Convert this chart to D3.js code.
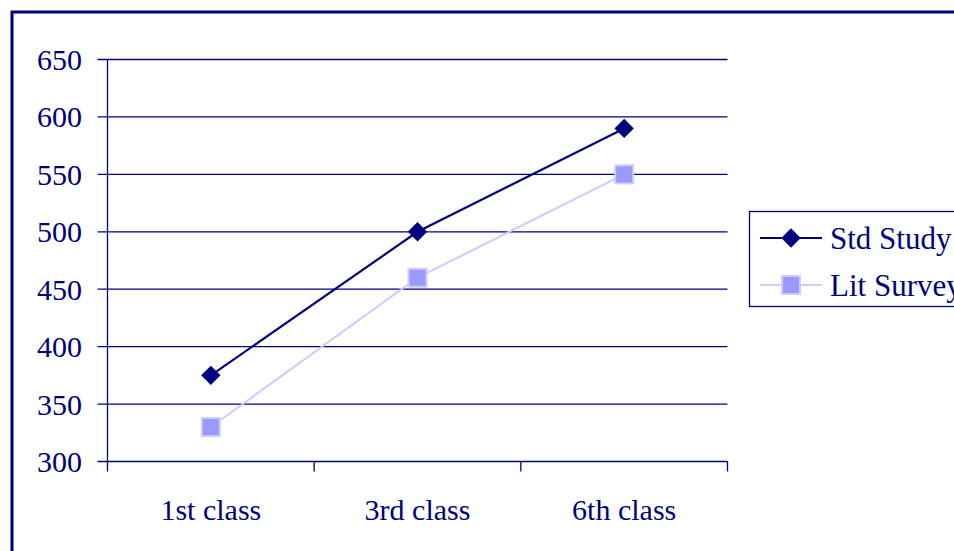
<!DOCTYPE html>
<html><head><meta charset="utf-8">
<script src="https://cdn.jsdelivr.net/npm/d3@7"></script>
<style>html,body{margin:0;padding:0;background:#fff;overflow:hidden}</style>
</head><body>
<svg id="c" width="954" height="551"></svg>
<script>
const categories = ["1st class", "3rd class", "6th class"];
const stdStudy = [375, 500, 590];
const litSurvey = [330, 460, 550];
const yTicks = [300, 350, 400, 450, 500, 550, 600, 650];
const seriesNames = ["Std Study", "Lit Survey"];

const navy = "#000080";
const svg = d3.select("#c");
const font = "'Liberation Serif', 'Times New Roman', serif";

// outer frame
svg.append("rect").attr("x", 12).attr("y", 12).attr("width", 1000).attr("height", 1000)
  .attr("fill", "none").attr("stroke", navy).attr("stroke-width", 3);

const L = 107.5, R = 727.5, T = 59.5, B = 461.5;
const x = d3.scaleBand().domain(categories).range([L, R]);
const y = d3.scaleLinear().domain([300, 650]).range([B, T]);

// gridlines
svg.append("g").selectAll("line").data(yTicks).join("line")
  .attr("x1", L - 10).attr("x2", R).attr("y1", d => y(d)).attr("y2", d => y(d))
  .attr("stroke", navy).attr("stroke-width", 1.3);

// y axis line
svg.append("line").attr("x1", L).attr("x2", L).attr("y1", T).attr("y2", B + 10)
  .attr("stroke", navy).attr("stroke-width", 1.3);

// x category ticks
const bounds = categories.map(c => x(c) + x.bandwidth()).slice(0, -1);
svg.append("g").selectAll("line").data(bounds.concat([R])).join("line")
  .attr("x1", d => d).attr("x2", d => d).attr("y1", B).attr("y2", B + 10)
  .attr("stroke", navy).attr("stroke-width", 1.3);

// y labels
svg.append("g").selectAll("text").data(yTicks).join("text")
  .attr("x", 82).attr("y", d => y(d)).attr("dy", "0.35em")
  .attr("text-anchor", "end").attr("font-family", font).attr("font-size", 30)
  .attr("fill", navy).text(d => d);

// x labels
svg.append("g").selectAll("text").data(categories).join("text")
  .attr("x", d => x(d) + x.bandwidth() / 2).attr("y", 520)
  .attr("text-anchor", "middle").attr("font-family", font).attr("font-size", 30)
  .attr("fill", navy).text(d => d);

const cx = c => x(c) + x.bandwidth() / 2;
const line = d3.line().x((d, i) => cx(categories[i])).y(d => y(d));

// Lit Survey
svg.append("path").datum(litSurvey).attr("d", line).attr("fill", "none")
  .attr("stroke", "#ccccff").attr("stroke-width", 2);
svg.append("g").selectAll("rect").data(litSurvey).join("rect")
  .attr("x", (d, i) => cx(categories[i]) - 9).attr("y", d => y(d) - 9)
  .attr("width", 18).attr("height", 18)
  .attr("fill", "#9999ff").attr("stroke", "#ccccff").attr("stroke-width", 2);

// Std Study
svg.append("path").datum(stdStudy).attr("d", line).attr("fill", "none")
  .attr("stroke", navy).attr("stroke-width", 2.2);
const diamond = d3.symbol().type(d3.symbolDiamond2).size(240);
svg.append("g").selectAll("path").data(stdStudy).join("path")
  .attr("transform", (d, i) => `translate(${cx(categories[i])},${y(d)})`)
  .attr("d", diamond).attr("fill", navy);

// legend
const lg = svg.append("g");
lg.append("rect").attr("x", 749.5).attr("y", 211.5).attr("width", 300).attr("height", 95)
  .attr("fill", "#fff").attr("stroke", navy).attr("stroke-width", 1.3);
const legendY = [238, 285];
seriesNames.forEach((name, i) => {
  const yy = legendY[i];
  if (i === 0) {
    lg.append("line").attr("x1", 760).attr("x2", 822).attr("y1", yy).attr("y2", yy)
      .attr("stroke", navy).attr("stroke-width", 2.2);
    lg.append("path").attr("transform", `translate(791,${yy})`).attr("d", diamond).attr("fill", navy);
  } else {
    lg.append("line").attr("x1", 760).attr("x2", 822).attr("y1", yy).attr("y2", yy)
      .attr("stroke", "#ccccff").attr("stroke-width", 2);
    lg.append("rect").attr("x", 782).attr("y", yy - 9).attr("width", 18).attr("height", 18)
      .attr("fill", "#9999ff").attr("stroke", "#ccccff").attr("stroke-width", 2);
  }
  lg.append("text").attr("x", 830).attr("y", yy).attr("dy", "0.35em")
    .attr("font-family", font).attr("font-size", 31).attr("fill", navy).text(name);
});
</script>
</body></html>
